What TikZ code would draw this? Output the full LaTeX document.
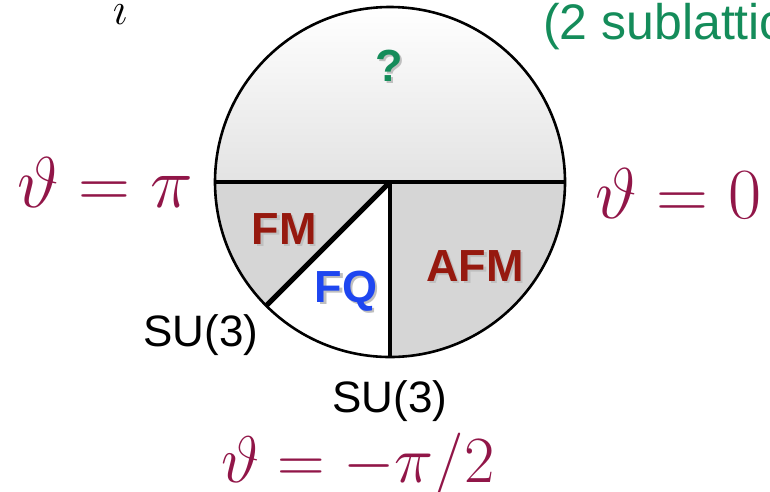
\RequirePackage{fix-cm}
\documentclass[tikz,border=0pt]{standalone}
\usepackage{fontspec}
\setsansfont{Liberation Sans}
\usetikzlibrary{calc}
\definecolor{thetacol}{RGB}{145,22,72}
\definecolor{phasered}{RGB}{150,25,15}
\definecolor{fqblue}{RGB}{30,70,240}
\definecolor{qgreen}{RGB}{20,140,90}
\newcommand{\shadowed}[1]{\makebox[0pt][l]{\hspace{2.5pt}\raisebox{-2.5pt}{\color{black!25}#1}}#1}

\begin{document}
\begin{tikzpicture}[x=1pt, y=1pt,
  rim/.style={line width=2.6pt},
  split/.style={line width=3.8pt},
  phase/.style={font=\sffamily\bfseries\fontsize{45}{50}\selectfont, inner sep=0pt},
  point/.style={font=\sffamily\fontsize{44}{48}\selectfont, inner sep=0pt},
  angle/.style={font=\fontsize{72}{80}\selectfont, text=thetacol, inner sep=0pt, anchor=base west}]
\useasboundingbox (0,0) rectangle (770,-491);
\def\rad{175}
\coordinate (c) at (390,-182);
\coordinate (e) at ($(c)+(0:\rad)$);
\coordinate (w) at ($(c)+(180:\rad)$);
\coordinate (s) at ($(c)+(270:\rad)$);
\coordinate (sw) at ($(c)+(225:\rad)$);

% phase regions
\shade[top color=white, bottom color=black!11] (e) arc (0:180:\rad) -- cycle;
\fill[black!16] (c) -- (w) arc (180:225:\rad) -- cycle;
\fill[black!16] (c) -- (s) arc (270:360:\rad) -- cycle;

% boundaries
\draw[rim] (c) circle (\rad);
\draw[split] (w) -- (e);
\draw[split] (c) -- (s);
\draw[split, line width=5pt] (c) -- (sw);

% phase labels
\node[phase, text=qgreen] (q) at (389,-67) {\shadowed{?}};
\node[phase, text=phasered] (fm) at (284,-230) {\shadowed{FM}};
\node[phase, text=fqblue] (fq) at (346,-292) {\shadowed{FQ}};
\node[phase, text=phasered] (afm) at (475,-267) {\shadowed{AFM}};
\node[font=\sffamily\fontsize{50}{54}\selectfont, text=qgreen, inner sep=0pt, anchor=base west] (sub) at (543,-39) {(2 sublattice};
\node[font=\fontsize{46}{50}\selectfont, inner sep=0pt] (i) at (120,-15) {$\imath$};

% special points
\node[point] (su1) at (201,-335) {SU(3)};
\node[point] (su2) at (390,-401) {SU(3)};

% angles
\node[angle] (tpi) at (17,-207) {$\vartheta=\pi$};
\node[angle] (tzero) at (595,-218) {$\vartheta=0$};
\node[angle, font=\fontsize{66}{72}\selectfont] (tmhalf) at (221,-482) {$\vartheta=-\pi/2$};
\end{tikzpicture}
\end{document}
